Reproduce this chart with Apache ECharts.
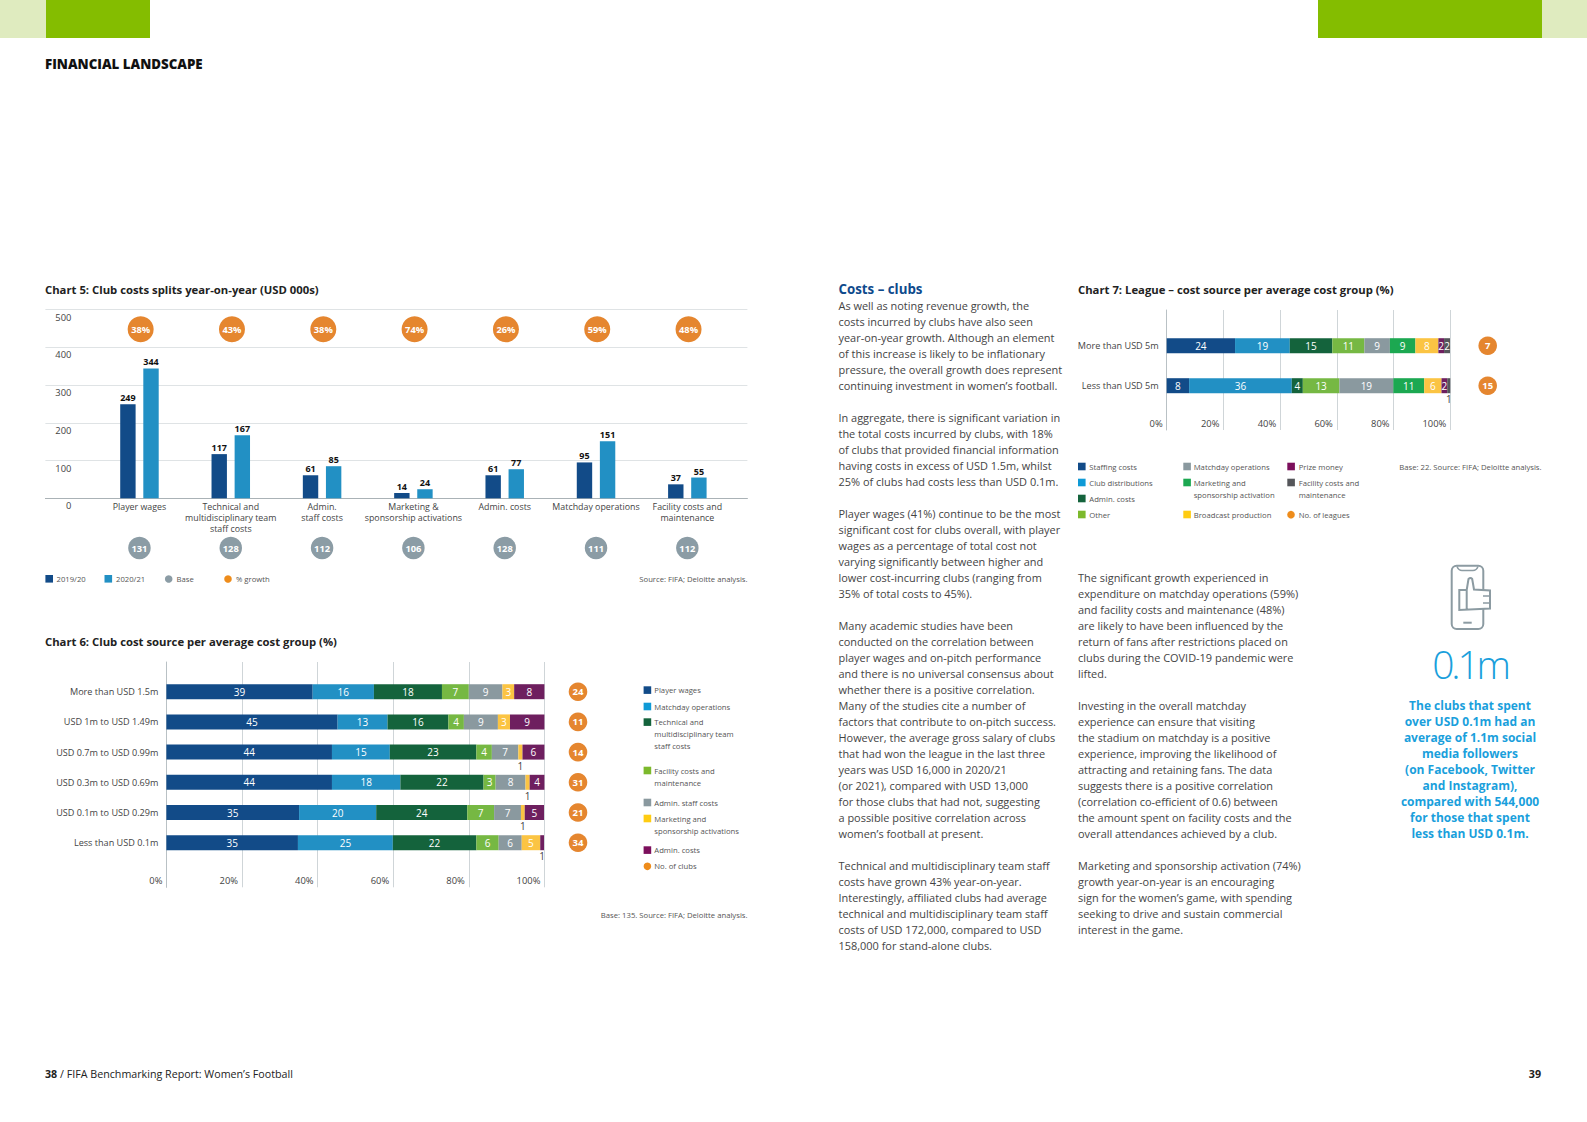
<!DOCTYPE html>
<html>
<head>
    <meta charset="utf-8">
    <script src="https://cdn.jsdelivr.net/npm/echarts@6/dist/echarts.min.js"></script>
    <style>
        *{
            margin:0;
            padding:0;
        }
        body{
            width:1587px;
            height:1122px;
            background:#fff;
            position:relative;
            overflow:hidden;
            font-family:"Open Sans",sans-serif;
        }
        #page{
            position:absolute;
            left:0;
            top:0;
            width:1587px;
            height:1122px;
        }
        .t{
            position:absolute;
            white-space:pre;
            color:#444;
        }
        .body{
            font-size:10.95px;
            line-height:16px;
        }
        .band{
            position:absolute;
            top:0;
            height:37.5px;
        }
        #icon{
            position:absolute;
            left:0;
            top:0;
        }
    </style>
</head>
<body>
<div class="band" style="left:0;width:45.5px;background:#dfebbf"></div>
<div class="band" style="left:45.5px;width:104.5px;background:#84bd00"></div>
<div class="band" style="left:1317.5px;width:224px;background:#84bd00"></div>
<div class="band" style="left:1541.5px;width:45.5px;background:#dfebbf"></div>

<div id="page"></div>

<!-- phone with thumb icon -->
<svg id="icon" width="1587" height="1122" fill="none" stroke="#8c9ba2" stroke-width="2">
    <rect x="1451.7" y="565.7" width="31.6" height="63.3" rx="5"/>
    <path stroke-width="1.5" d="M1457 566.5 Q1458.5 570.5 1462 570.5 H1473 Q1476.5 570.5 1478 566.5"/>
    <path d="M1463.3 622.7 H1471.7"/>
    <path fill="#fff" d="M1466.7 590 L1468.5 579 Q1470.5 577 1472.2 579 L1474 589.5 L1490 590.5 V608.5 L1459.3 610 V590 H1466.7 V610"/>
    <path stroke-width="1.7" d="M1483 596 H1490 M1483 603 H1490"/>
</svg>

<div class="t" style="left:45px;top:55px;font-size:13.3px;font-weight:800;color:#111;line-height:18px">FINANCIAL LANDSCAPE</div>
<div class="t" style="left:838.5px;top:280px;font-size:13.3px;font-weight:700;color:#0e4a8c;line-height:18px">Costs – clubs</div>

<div class="t body" style="left:838.5px;top:298px">As well as noting revenue growth, the
costs incurred by clubs have also seen
year-on-year growth. Although an element
of this increase is likely to be inflationary
pressure, the overall growth does represent
continuing investment in women’s football.

In aggregate, there is significant variation in
the total costs incurred by clubs, with 18%
of clubs that provided financial information
having costs in excess of USD 1.5m, whilst
25% of clubs had costs less than USD 0.1m.

Player wages (41%) continue to be the most
significant cost for clubs overall, with player
wages as a percentage of total cost not
varying significantly between higher and
lower cost-incurring clubs (ranging from
35% of total costs to 45%).

Many academic studies have been
conducted on the correlation between
player wages and on-pitch performance
and there is no universal consensus about
whether there is a positive correlation.
Many of the studies cite a number of
factors that contribute to on-pitch success.
However, the average gross salary of clubs
that had won the league in the last three
years was USD 16,000 in 2020/21
(or 2021), compared with USD 13,000
for those clubs that had not, suggesting
a possible positive correlation across
women’s football at present.

Technical and multidisciplinary team staff
costs have grown 43% year-on-year.
Interestingly, affiliated clubs had average
technical and multidisciplinary team staff
costs of USD 172,000, compared to USD
158,000 for stand-alone clubs.</div>

<div class="t body" style="left:1078px;top:570px">The significant growth experienced in
expenditure on matchday operations (59%)
and facility costs and maintenance (48%)
are likely to have been influenced by the
return of fans after restrictions placed on
clubs during the COVID-19 pandemic were
lifted.

Investing in the overall matchday
experience can ensure that visiting
the stadium on matchday is a positive
experience, improving the likelihood of
attracting and retaining fans. The data
suggests there is a positive correlation
(correlation co-efficient of 0.6) between
the amount spent on facility costs and the
overall attendances achieved by a club.

Marketing and sponsorship activation (74%)
growth year-on-year is an encouraging
sign for the women’s game, with spending
seeking to drive and sustain commercial
interest in the game.</div>

<div class="t" style="left:1370px;width:200px;top:640px;text-align:center;font-size:39px;font-weight:300;letter-spacing:-3.2px;color:#1a9fdc;line-height:48px">0.1m</div>
<div class="t" style="left:1370px;width:200px;top:698px;text-align:center;font-size:12px;font-weight:700;color:#1a9fdc;line-height:16px">The clubs that spent
over USD 0.1m had an
average of 1.1m social
media followers
(on Facebook, Twitter
and Instagram),
compared with 544,000
for those that spent
less than USD 0.1m.</div>

<div class="t" style="left:45px;top:1066px;font-size:10.7px;line-height:16px;color:#222"><b>38</b> / FIFA Benchmarking Report: Women’s Football</div>
<div class="t" style="left:1441px;width:100px;top:1066px;text-align:right;font-size:10.7px;font-weight:700;line-height:16px;color:#222">39</div>

<script type="text/javascript">
    // Chart 5
    var costCategories = ['Player wages', 'Technical and\nmultidisciplinary team\nstaff costs', 'Admin.\nstaff costs',
        'Marketing &\nsponsorship activations', 'Admin. costs', 'Matchday operations', 'Facility costs and\nmaintenance'];
    var costs2019 = [249, 117, 61, 14, 61, 95, 37];
    var costs2020 = [344, 167, 85, 24, 77, 151, 55];
    var growthPct = [38, 43, 38, 74, 26, 59, 48];
    var baseCounts = [131, 128, 112, 106, 128, 111, 112];

    // Chart 6 (segments, the printed labels are these rounded)
    var clubGroups = ['More than USD 1.5m', 'USD 1m to USD 1.49m', 'USD 0.7m to USD 0.99m',
        'USD 0.3m to USD 0.69m', 'USD 0.1m to USD 0.29m', 'Less than USD 0.1m'];
    var clubPlayerWages = [38.7, 45.3, 43.8, 43.8, 35.1, 34.8];
    var clubMatchday = [16.2, 13.2, 15.3, 18.1, 20.4, 25.1];
    var clubTechnical = [18.0, 16.1, 22.9, 22.0, 24.1, 22.1];
    var clubFacility = [7.1, 4.1, 4.1, 3.2, 7.1, 5.9];
    var clubAdminStaff = [8.9, 9.0, 7.0, 7.9, 7.1, 6.1];
    var clubMarketing = [3.1, 3.2, 1.1, 1.1, 1.0, 4.9];
    var clubAdminCosts = [8.0, 9.1, 6.0, 4.1, 5.1, 1.0];
    var clubCounts = [24, 11, 14, 31, 21, 34];

    // Chart 7
    var leagueGroups = ['More than USD 5m', 'Less than USD 5m'];
    var leagueStaffing = [24.1, 7.9];
    var leagueDistributions = [19.3, 36.2];
    var leagueAdmin = [15.0, 3.9];
    var leagueOther = [11.3, 12.9];
    var leagueMatchday = [9.0, 19.0];
    var leagueMarketing = [9.0, 10.9];
    var leagueBroadcast = [8.1, 6.1];
    var leaguePrize = [2.0, 2.0];
    var leagueFacility = [2.1, 1.1];
    var leagueCounts = [7, 15];

    var NAVY = '#124b88', BLUE = '#2290c4', DGREEN = '#14633c', GREEN = '#76b843', GREY = '#8a999f',
        YELLOW = '#fbc443', PURPLE = '#6e1f5f', MGREEN = '#1ca851', DGREY = '#55565a', ORANGE = '#e5862f', BASEGREY = '#8b9ca5';
    var TEXT = '#444';
    var LABEL_FONT = 9.1;

    var dom = document.getElementById('page');
    var myChart = echarts.init(dom, null, {renderer: 'svg'});

    function hiddenValue(gridIndex, min, max) {
        return {type: 'value', gridIndex: gridIndex, min: min, max: max, show: false};
    }

    // one row or column of round markers with a number inside
    function bubbles(xi, yi, data, color, size, fontSize, suffix) {
        return {
            type: 'scatter', xAxisIndex: xi, yAxisIndex: yi, data: data, symbolSize: size, silent: true,
            itemStyle: {color: color, opacity: 1},
            label: {
                show: true, position: 'inside', color: '#fff', fontWeight: 700, fontSize: fontSize,
                formatter: function (p) { return p.value[2] + suffix; }
            }
        };
    }

    function stacked(name, values, color, xi, yi, stack) {
        return {
            name: name, type: 'bar', stack: stack, xAxisIndex: xi, yAxisIndex: yi, barWidth: 15, silent: true,
            itemStyle: {color: color},
            data: values.map(function (v) {
                var item = {value: v};
                if (Math.round(v) === 1) {
                    item.label = {position: 'bottom', distance: 1, color: TEXT};
                }
                return item;
            }),
            label: {
                show: true, position: 'inside', color: '#fff', fontSize: 10,
                formatter: function (p) { return Math.round(p.value); }
            }
        };
    }

    function lineGridAxis(gridIndex) {
        return {
            type: 'value', gridIndex: gridIndex, min: 0, max: 100, interval: 20, position: 'bottom',
            axisLine: {show: false}, axisTick: {show: false},
            splitLine: {show: true, lineStyle: {color: '#cfd5d8', width: 1}},
            axisLabel: {
                inside: true, align: 'right', margin: 2, padding: [0, 4, 0, 0], color: TEXT, fontSize: 9.4,
                formatter: '{value}%'
            }
        };
    }

    function catAxis(gridIndex, names, visible) {
        return {
            type: 'category', gridIndex: gridIndex, data: names, inverse: true, show: visible,
            axisLine: {show: false}, axisTick: {show: false},
            axisLabel: {color: TEXT, fontSize: LABEL_FONT, margin: 8}
        };
    }

    var grids = [
        {left: 45.4, width: 702, top: 309.5, height: 188.8},   // 0 chart 5 lines
        {left: 93.8, width: 639.2, top: 309.5, height: 188.8}, // 1 chart 5 bars
        {left: 95, width: 639.2, top: 316.3, height: 26},      // 2 growth row
        {left: 93.8, width: 639.2, top: 537, height: 22},      // 3 base row
        {left: 166.4, width: 378, top: 662, height: 225.3},    // 4 chart 6 lines
        {left: 166.4, width: 378, top: 676.6, height: 181.2},  // 5 chart 6 bars
        {left: 568, width: 20, top: 676.6, height: 181.2},     // 6 chart 6 bubbles
        {left: 1166.7, width: 283.6, top: 310, height: 120},   // 7 chart 7 lines
        {left: 1166.7, width: 283.6, top: 325.7, height: 80},  // 8 chart 7 bars
        {left: 1477.7, width: 20, top: 325.7, height: 80}      // 9 chart 7 bubbles
    ];

    var xAxes = [
        {
            type: 'category', gridIndex: 0, data: [''],
            axisLine: {show: true, lineStyle: {color: '#aab2b6', width: 1}}, axisTick: {show: false}, axisLabel: {show: false}
        },
        {
            type: 'category', gridIndex: 1, data: costCategories,
            axisLine: {show: false}, axisTick: {show: false},
            axisLabel: {color: TEXT, fontSize: 8.85, lineHeight: 11, margin: 3, interval: 0}
        },
        {type: 'category', gridIndex: 2, data: costCategories, show: false},
        {type: 'category', gridIndex: 3, data: costCategories, show: false},
        lineGridAxis(4),
        hiddenValue(5, 0, 100),
        hiddenValue(6, -1, 1),
        lineGridAxis(7),
        hiddenValue(8, 0, 100),
        hiddenValue(9, -1, 1)
    ];

    var yAxes = [
        {
            type: 'value', gridIndex: 0, min: 0, max: 500, interval: 100,
            axisLine: {show: false}, axisTick: {show: false},
            splitLine: {show: true, lineStyle: {color: '#dfe3e5', width: 1}},
            axisLabel: {inside: true, align: 'right', margin: 26, verticalAlign: 'top', padding: [3, 0, 0, 0], color: TEXT, fontSize: 9.4}
        },
        {type: 'value', gridIndex: 1, min: 0, max: 500, show: false},
        hiddenValue(2, -1, 1),
        hiddenValue(3, -1, 1),
        {
            type: 'category', gridIndex: 4, data: [''], show: true,
            axisLine: {show: true, lineStyle: {color: '#b9c1c5', width: 1}}, axisTick: {show: false}, axisLabel: {show: false}
        },
        catAxis(5, clubGroups, true),
        catAxis(6, clubGroups, false),
        {
            type: 'category', gridIndex: 7, data: [''], show: true,
            axisLine: {show: true, lineStyle: {color: '#b9c1c5', width: 1}}, axisTick: {show: false}, axisLabel: {show: false}
        },
        catAxis(8, leagueGroups, true),
        catAxis(9, leagueGroups, false)
    ];

    function costBars(name, values, color) {
        return {
            name: name, type: 'bar', xAxisIndex: 1, yAxisIndex: 1, barWidth: 15.4, barGap: '50%', silent: true, data: values,
            itemStyle: {color: color},
            label: {show: true, position: 'top', distance: 2, color: '#111', fontWeight: 700, fontSize: 9}
        };
    }

    var series = [
        // empty series only so that the line grids get drawn
        {type: 'scatter', xAxisIndex: 0, yAxisIndex: 0, data: []},
        costBars('2019/20', costs2019, NAVY),
        costBars('2020/21', costs2020, BLUE),
        bubbles(2, 2, growthPct.map(function (v, i) { return [i, 0, v]; }), ORANGE, 26, 9.3, '%'),
        bubbles(3, 3, baseCounts.map(function (v, i) { return [i, 0, v]; }), BASEGREY, 22.5, 9.3, ''),

        {type: 'scatter', xAxisIndex: 4, yAxisIndex: 4, data: []},
        stacked('Player wages', clubPlayerWages, NAVY, 5, 5, 'club'),
        stacked('Matchday operations', clubMatchday, BLUE, 5, 5, 'club'),
        stacked('Technical and multidisciplinary team staff costs', clubTechnical, DGREEN, 5, 5, 'club'),
        stacked('Facility costs and maintenance', clubFacility, GREEN, 5, 5, 'club'),
        stacked('Admin. staff costs', clubAdminStaff, GREY, 5, 5, 'club'),
        stacked('Marketing and sponsorship activations', clubMarketing, YELLOW, 5, 5, 'club'),
        stacked('Admin. costs', clubAdminCosts, PURPLE, 5, 5, 'club'),
        bubbles(6, 6, clubCounts.map(function (v, i) { return [0, i, v]; }), ORANGE, 18.6, 9.5, ''),

        {type: 'scatter', xAxisIndex: 7, yAxisIndex: 7, data: []},
        stacked('Staffing costs', leagueStaffing, NAVY, 8, 8, 'league'),
        stacked('Club distributions', leagueDistributions, BLUE, 8, 8, 'league'),
        stacked('Admin. costs', leagueAdmin, DGREEN, 8, 8, 'league'),
        stacked('Other', leagueOther, GREEN, 8, 8, 'league'),
        stacked('Matchday operations', leagueMatchday, GREY, 8, 8, 'league'),
        stacked('Marketing and sponsorship activation', leagueMarketing, MGREEN, 8, 8, 'league'),
        stacked('Broadcast production', leagueBroadcast, YELLOW, 8, 8, 'league'),
        stacked('Prize money', leaguePrize, PURPLE, 8, 8, 'league'),
        stacked('Facility costs and maintenance', leagueFacility, DGREY, 8, 8, 'league'),
        bubbles(9, 9, leagueCounts.map(function (v, i) { return [0, i, v]; }), ORANGE, 18.6, 9.5, '')
    ];

    // legends are placed by hand, the wrapped entries don't fit the legend component
    var graphics = [];

    function note(text, x, y, align) {
        graphics.push({
            type: 'text', x: x, y: y, silent: true,
            style: {text: text, fill: '#555', fontSize: 7.7, fontFamily: 'Open Sans', lineHeight: 12, align: align || 'left', verticalAlign: 'top'}
        });
    }
    function swatch(color, x, y) {
        graphics.push({type: 'rect', silent: true, shape: {x: x, y: y - 4, width: 7.6, height: 7.6}, style: {fill: color}});
    }
    function dot(color, x, y) {
        graphics.push({type: 'circle', silent: true, shape: {cx: x, cy: y, r: 3.8}, style: {fill: color}});
    }
    function legendItem(kind, color, text, sx, tx, y) {
        kind(color, sx, y);
        note(text, tx, y - 6);
    }

    // chart 5 legend
    legendItem(swatch, NAVY, '2019/20', 45.4, 56.5, 579);
    legendItem(swatch, BLUE, '2020/21', 104.5, 116, 579);
    legendItem(dot, BASEGREY, 'Base', 168.7, 176.6, 579);
    legendItem(dot, '#ee8c1b', '% growth', 228, 236, 579);
    note('Source: FIFA; Deloitte analysis.', 747.5, 573, 'right');

    // chart 6 legend
    legendItem(swatch, NAVY, 'Player wages', 643.6, 654.3, 690.3);
    legendItem(swatch, '#0f9ad6', 'Matchday operations', 643.6, 654.3, 706.7);
    legendItem(swatch, DGREEN, 'Technical and\nmultidisciplinary team\nstaff costs', 643.6, 654.3, 722.3);
    legendItem(swatch, '#7cb92c', 'Facility costs and\nmaintenance', 643.6, 654.3, 770.7);
    legendItem(swatch, GREY, 'Admin. staff costs', 643.6, 654.3, 802.7);
    legendItem(swatch, '#ffcc12', 'Marketing and\nsponsorship activations', 643.6, 654.3, 818.7);
    legendItem(swatch, '#7c0f5c', 'Admin. costs', 643.6, 654.3, 850.3);
    legendItem(dot, '#ee8c1b', 'No. of clubs', 647.4, 654.3, 866.3);
    note('Base: 135. Source: FIFA; Deloitte analysis.', 747.5, 908.7, 'right');

    // chart 7 legend
    legendItem(swatch, NAVY, 'Staffing costs', 1078, 1089.3, 466.7);
    legendItem(swatch, '#0f9ad6', 'Club distributions', 1078, 1089.3, 482.7);
    legendItem(swatch, DGREEN, 'Admin. costs', 1078, 1089.3, 498.7);
    legendItem(swatch, '#7cb92c', 'Other', 1078, 1089.3, 514.7);
    legendItem(swatch, GREY, 'Matchday operations', 1183.3, 1193.7, 466.7);
    legendItem(swatch, MGREEN, 'Marketing and\nsponsorship activation', 1183.3, 1193.7, 482.7);
    legendItem(swatch, '#ffcc12', 'Broadcast production', 1183.3, 1193.7, 514.7);
    legendItem(swatch, '#7c0f5c', 'Prize money', 1287.3, 1298.7, 466.7);
    legendItem(swatch, DGREY, 'Facility costs and\nmaintenance', 1287.3, 1298.7, 482.7);
    legendItem(dot, '#ee8c1b', 'No. of leagues', 1291, 1298.7, 514.7);
    note('Base: 22. Source: FIFA; Deloitte analysis.', 1399.3, 460.7);

    function chartTitle(text, left, top) {
        return {text: text, left: left, top: top, padding: 0, textStyle: {fontSize: 11.3, fontWeight: 700, color: '#222', fontFamily: 'Open Sans'}};
    }

    var option = {
        animation: false,
        textStyle: {fontFamily: 'Open Sans'},
        title: [
            chartTitle('Chart 5: Club costs splits year-on-year (USD 000s)', 45, 284),
            chartTitle('Chart 6: Club cost source per average cost group (%)', 45, 636),
            chartTitle('Chart 7: League – cost source per average cost group (%)', 1078, 284)
        ],
        grid: grids,
        xAxis: xAxes,
        yAxis: yAxes,
        series: series,
        graphic: {elements: graphics}
    };

    myChart.setOption(option);
</script>
</body>
</html>
